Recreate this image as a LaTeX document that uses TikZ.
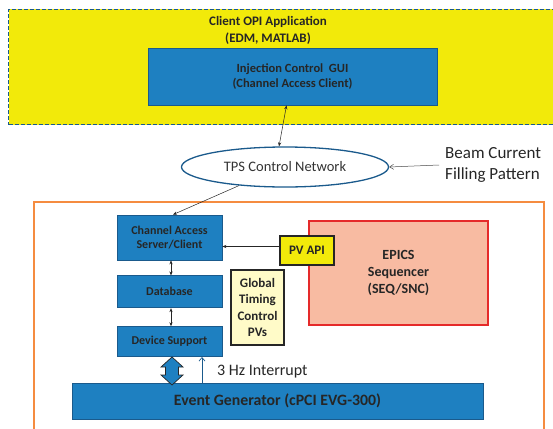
\documentclass[tikz,border=0pt]{standalone}
\usepackage{fontspec}
\setmainfont{Carlito}
\usetikzlibrary{shapes.geometric,positioning,arrows.meta}
\definecolor{opiyellow}{HTML}{F2EA0A}
\definecolor{ctlblue}{HTML}{1E80C1}
\definecolor{ctledge}{HTML}{1A5A8C}
\definecolor{frameorange}{RGB}{245,140,64}
\definecolor{seqfill}{HTML}{F8BBA2}
\definecolor{seqedge}{HTML}{E52A2A}
\definecolor{pvfill}{HTML}{FFFBC8}
\newcommand{\fsz}[2]{\fontsize{#1}{#2}\selectfont}
\tikzset{
  ctlbox/.style={draw=ctledge, fill=ctlblue, line width=0.8pt, align=center, inner sep=0pt, text=black!85, font=\fsz{12}{14}\bfseries},
  pvbox/.style={draw=black!85, line width=1.4pt, align=center, inner sep=0pt, text=black!85, font=\fsz{13}{16.5}\bfseries},
  ctlarrow/.style={-{Stealth[length=4pt,width=3.2pt]}, line width=0.5pt, black!85},
}

\begin{document}
\begin{tikzpicture}[x=1pt, y=-1pt]
\useasboundingbox (0,0) rectangle (553,428);
% client side
\node[draw=ctledge, fill=opiyellow, line width=1pt, dash pattern=on 4pt off 2pt, minimum width=552pt, minimum height=115pt, anchor=north west, inner sep=0pt] (opi) at (8,9) {};
\node[align=center, text=black!85, font=\fsz{13}{17}\bfseries] (opititle) at (268,30) {Client OPI Application\\(EDM, MATLAB)};
\node[ctlbox, minimum width=289pt, minimum height=57pt, font=\fsz{12.5}{15}\bfseries] (gui) at (292.5,76.5) {Injection Control\ \ GUI\\(Channel Access Client)};
% network
\node[ellipse, draw=ctledge, line width=1.3pt, fill=white, minimum width=207pt, minimum height=40pt, inner sep=0pt, text=black!80, font=\fsz{14.5}{17}] (net) at (285,167) {TPS Control Network};
\node[anchor=west, align=left, inner sep=0pt, text=black!85, font=\fsz{17}{21}] (beam) at (445,165) {Beam Current\\Filling Pattern};
% IOC side
\node[draw=frameorange, line width=1.6pt, minimum width=510pt, minimum height=240pt, anchor=north west, inner sep=0pt] (ioc) at (33,201) {};
\node[ctlbox, minimum width=105pt, minimum height=45pt] (ca) at (169.5,237.5) {Channel Access\\Server/Client};
\node[ctlbox, minimum width=105pt, minimum height=32pt, below=15pt of ca] (db) {Database};
\node[ctlbox, minimum width=105pt, minimum height=30pt, below=18pt of db] (ds) {Device Support};
\node[draw=seqedge, fill=seqfill, line width=1.2pt, minimum width=179pt, minimum height=104pt, inner sep=0pt, align=center, text=black!85, font=\fsz{14}{17}\bfseries] (seq) at (398.5,273) {EPICS\\Sequencer\\(SEQ/SNC)};
\node[pvbox, fill=opiyellow, minimum width=54pt, minimum height=29pt] (pvapi) at (307,250.5) {PV API};
\node[pvbox, fill=pvfill, minimum width=53pt, minimum height=75pt] (gpv) at (257.5,307.5) {Global\\Timing\\Control\\PVs};
\node[ctlbox, minimum width=411pt, minimum height=36pt, font=\fsz{15.8}{18}\bfseries] (evg) at (277.5,401) {Event Generator (cPCI EVG-300)};
% connectors
\draw[ctlarrow, {Stealth[length=4pt,width=3.2pt]}-{Stealth[length=4pt,width=3.2pt]}] ([xshift=-6pt]gui.south) -- ([xshift=-6pt]net.north);
\draw[-{Straight Barb[length=4pt,width=5pt]}, line width=0.5pt, black!70] (beam.west) ++(-6pt,0) -- (net.east);
\draw[ctlarrow] (net.202) -- ([xshift=3.5pt]ca.north);
\draw[ctlarrow] ([yshift=4pt]pvapi.west) -- ([yshift=4pt]pvapi.west -| ca.east);
\draw[ctlarrow, {Stealth[length=4pt,width=3.2pt]}-{Stealth[length=4pt,width=3.2pt]}] ([xshift=1.5pt]ca.south) -- ([xshift=1.5pt]db.north);
\draw[ctlarrow, {Stealth[length=4pt,width=3.2pt]}-{Stealth[length=4pt,width=3.2pt]}] ([xshift=1.5pt]db.south) -- ([xshift=1.5pt]ds.north);
\coordinate (busx) at (172,0);
\coordinate (irqx) at (202,0);
\draw[draw=black!85, fill=ctlblue, line width=0.7pt, line join=miter] (ds.south -| busx) -- ++(11,10) -- ++(-4.5,0) -- ++(0,8) -- ++(4.5,0) -- ++(-11,10) -- ++(-11,-10) -- ++(4.5,0) -- ++(0,-8) -- ++(-4.5,0) -- cycle;
\draw[-{Straight Barb[length=3.5pt,width=6pt]}, draw=ctledge, line width=0.7pt] (evg.north -| irqx) -- (ds.south -| irqx);
\node[anchor=west, inner sep=0pt, text=black!85, font=\fsz{16}{19}] (irqlbl) at (217,372) {3 Hz Interrupt};
\end{tikzpicture}
\end{document}
